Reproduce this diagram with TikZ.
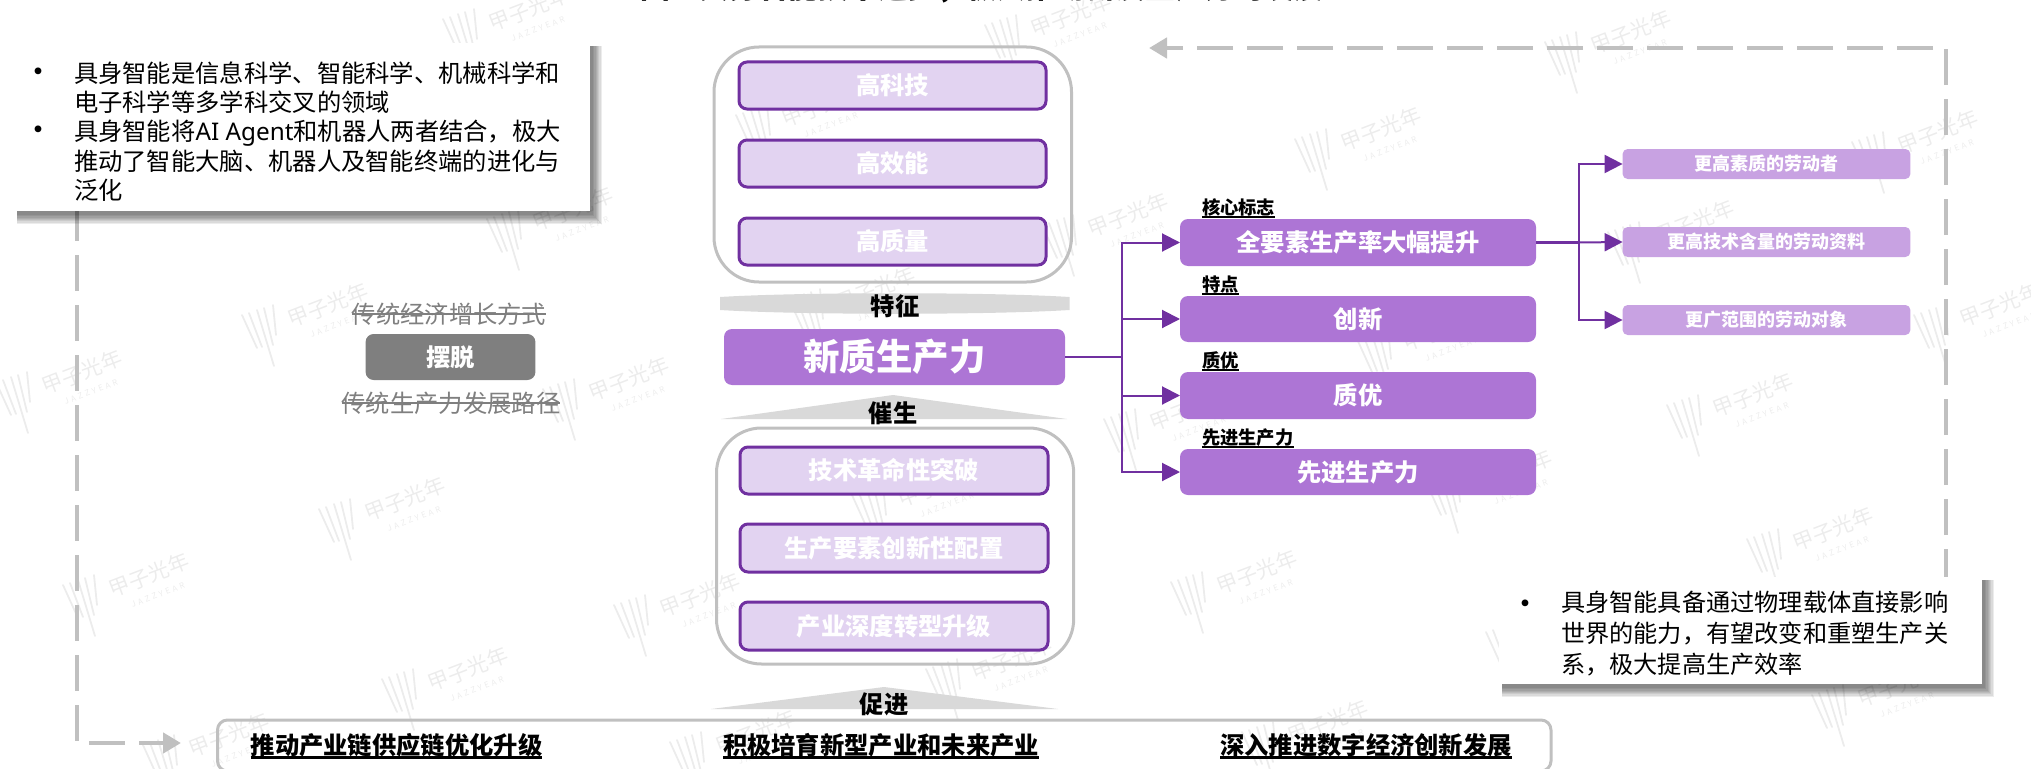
\documentclass[tikz,border=0pt]{standalone}
\usepackage{fontspec}
\setmainfont{Noto Sans CJK SC}
\newfontfamily\latinpart{Noto Sans}
\usetikzlibrary{arrows.meta}
\definecolor{pdark}{HTML}{7030A0}
\definecolor{pmid}{HTML}{AD75D5}
\definecolor{plite}{HTML}{C8A2E2}
\definecolor{ppale}{HTML}{E2D3F1}
\definecolor{gline}{HTML}{C0C0C0}
\definecolor{gband}{HTML}{D9D9D9}
\definecolor{gdark}{HTML}{7F7F7F}
\definecolor{wmk}{HTML}{ECECEC}
\tikzset{
  base/.style={inner sep=0pt,outer sep=0pt},
  shell/.style={base,draw=gline,line width=3pt,rounded corners=45pt},
  inner/.style={base,draw=pdark,fill=ppale,line width=3pt,rounded corners=8pt,text=white,font=\fontsize{24.3}{29}\selectfont\bfseries},
  solid box/.style={base,fill=pmid,rounded corners=8pt,text=white,font=\fontsize{24.3}{29}\selectfont\bfseries},
  small box/.style={base,fill=plite,rounded corners=5pt,text=white,font=\fontsize{18}{22}\selectfont\bfseries},
  grey box/.style={base,fill=gdark,rounded corners=8pt,text=white,font=\fontsize{24.3}{29}\selectfont\bfseries},
  note box/.style={base,fill=white},
  body/.style={base,anchor=north west,align=left,text=black,font=\fontsize{24.3}{29.4}\selectfont},
  dot/.style={base,anchor=base,text=black,font=\fontsize{32}{36}\selectfont},
  stage/.style={base,text=black,font=\fontsize{24.3}{29}\selectfont\bfseries},
  tag/.style={base,anchor=base west,text=black,font=\fontsize{18.3}{22}\selectfont\bfseries},
  link/.style={base,anchor=base,text=black,font=\fontsize{24.3}{29}\selectfont\bfseries},
  old/.style={base,text=gdark,font=\fontsize{24.3}{29}\selectfont},
  flow/.style={draw=pdark,line width=2pt},
  flowarrow/.style={flow,-{Triangle[length=18pt,width=18pt]}},
  backline/.style={draw=gline,line width=4.5pt,dash pattern=on 36pt off 14pt,-{Triangle[length=18pt,width=20pt]}},
}
% #1 rule depth, #2 rule height, #3 text
\newcommand\ruled[3]{\setbox0\hbox{#3}\makebox[0pt][l]{\rule[-#1pt]{\wd0}{#2pt}}\box0}
% #1 style, #2 name, #3 x1, #4 y1, #5 x2, #6 y2, #7 text
\newcommand\bx[7]{\node[#1,minimum width={(#5-#3)*1pt},minimum height={(#6-#4)*1pt}] (#2) at ({(#3+#5)/2},{(#4+#6)/2}) {\raisebox{-1pt}{#7}};}
\newcommand\softshadow[4]{\foreach \i in {0,...,7}{\fill[black,opacity=.075] (#1+3,#2+3) rectangle ({#3+3+\i*1.25},{#4+4+\i*1.25});}}
\newcommand\wm[2]{\begin{scope}[shift={(#1,#2)}]
  \draw[wmk,line width=1.8pt,line cap=round] (-18,-18)--(-3,15) (-11,-20)--(2,14) (-3,-23)--(14,33) (4,-25)--(13,12) (13,-28)--(16,2);
  \node[base,text=wmk,rotate=21,font=\fontsize{21}{24}\selectfont] (wm#1x#2a) at (68,-28) {甲子光年};
  \node[base,text=wmk,rotate=21,font=\fontsize{8}{10}\selectfont] (wm#1x#2b) at (77,-8) {J\,\,A\,\,Z\,\,Z\,\,Y\,\,E\,\,A\,\,R};
\end{scope}}
\begin{document}
\begin{tikzpicture}[x=1pt,y=-1pt]
\useasboundingbox (0,0) rectangle (2031,768);
\begin{scope}
\clip (0,0) rectangle (2031,768);
\wm{461}{37}\wm{1003}{43}\wm{754}{133}\wm{505}{237}\wm{1060}{243}\wm{260}{333}\wm{14}{400}\wm{561}{407}\wm{807}{317}
\wm{1563}{60}\wm{1313}{157}\wm{1870}{160}\wm{1626}{250}\wm{1932}{333}\wm{1375}{357}\wm{1685}{423}\wm{1122}{437}\wm{1444}{500}
\wm{337}{527}\wm{81}{603}\wm{632}{623}\wm{870}{513}\wm{944}{687}\wm{400}{697}\wm{688}{760}\wm{161}{763}
\wm{1189}{600}\wm{1765}{557}\wm{1830}{713}\wm{1260}{750}\wm{1504}{650}
% title, cut by the page's upper edge
\node[base,anchor=base,text=black,font=\fontsize{29.7}{34}\selectfont\bfseries] (title) at (982,-1) {图：具身智能技术进步，极大推动新质生产力的发展};
\end{scope}

% dashed return lines
\coordinate (leftStart) at (77,205);
\coordinate (leftEnd) at (181,743);
\coordinate (rightStart) at (1946,585);
\coordinate (rightEnd) at (1149,48);
\draw[backline] (leftStart) |- (leftEnd);
\draw[backline] (rightStart) |- (rightEnd);

% left note
\softshadow{14}{43}{590}{211}
\bx{note box}{leftNote}{14}{43}{590}{211}{}
\node[dot] (leftB1) at (38,83) {•};
\node[dot] (leftB2) at (38,141) {•};
\node[body] (leftText) at (74,61.5) {具身智能是信息科学、智能科学、机械科学和\\电子科学等多学科交叉的领域\\具身智能将{\latinpart AI Agent}和机器人两者结合，极大\\推动了智能大脑、机器人及智能终端的进化与\\泛化};

% old ways
\node[old] (oldA) at (449,314) {传统经济增长方式};
\draw[gdark,line width=1.8pt] (oldA.west) -- (oldA.east);
\bx{grey box}{shed}{365.6}{334}{535.4}{380}{摆脱}
\node[old] (oldB) at (451,403) {传统生产力发展路径};
\draw[gdark,line width=1.8pt] (oldB.west) -- (oldB.east);

% upper column
\bx{shell}{upperShell}{714}{47}{1071.5}{282}{}
\bx{inner}{hiTech}{739}{62}{1046}{109}{高科技}
\bx{inner}{hiEff}{739}{140}{1046}{187}{高效能}
\bx{inner}{hiQual}{739}{218}{1046}{265}{高质量}
\fill[gband] (720,297) .. controls (800,292) and (990,292) .. (1069.5,297) -- (1069.5,310) .. controls (990,315) and (800,315) .. (720,310) -- cycle;
\node[stage] (trait) at (895,306.5) {特征};

% centre
\bx{solid box,font=\fontsize{36.5}{42}\selectfont\bfseries}{npf}{724}{329}{1065}{385}{新质生产力}

% lower column
\fill[gband] (721,419) -- (893,395) -- (1067,419) -- cycle;
\node[stage] (spawn) at (893,413) {催生};
\bx{shell}{lowerShell}{716.5}{428}{1073.7}{664}{}
\bx{inner}{tech}{740}{447}{1048}{494}{技术革命性突破}
\bx{inner}{factor}{740}{524}{1048}{572}{生产要素创新性配置}
\bx{inner}{indus}{740}{602}{1048}{650}{产业深度转型升级}
\fill[gband] (711,709) -- (884,687) -- (1058,709) -- cycle;
\node[stage] (promote) at (884,704) {促进};

% bottom band
\bx{shell,rounded corners=10pt}{bottomBand}{217.5}{720}{1551}{771}{}
\node[link] (linkA) at (396.5,754) {\ruled{4.8}{2.4}{推动产业链供应链优化升级}};
\node[link] (linkB) at (881,754) {\ruled{4.8}{2.4}{积极培育新型产业和未来产业}};
\node[link] (linkC) at (1366,754) {\ruled{4.8}{2.4}{深入推进数字经济创新发展}};

% right column
\bx{solid box}{coreBox}{1180}{219}{1536}{266}{全要素生产率大幅提升}
\bx{solid box}{innovBox}{1180}{296}{1536}{342}{创新}
\bx{solid box}{qualBox}{1180}{372}{1536}{419}{质优}
\bx{solid box}{advBox}{1180}{449}{1536}{495}{先进生产力}
\node[tag] (tagA) at (1202,214.5) {\ruled{3.5}{2.2}{核心标志}};
\node[tag] (tagB) at (1202,291.5) {\ruled{3.5}{2.2}{特点}};
\node[tag] (tagC) at (1202,367.5) {\ruled{3.5}{2.2}{质优}};
\node[tag] (tagD) at (1202,444.5) {\ruled{3.5}{2.2}{先进生产力}};

\bx{small box}{subA}{1622.6}{149}{1910.4}{179}{更高素质的劳动者}
\bx{small box}{subB}{1622.6}{227}{1910.4}{257}{更高技术含量的劳动资料}
\bx{small box}{subC}{1622.6}{305}{1910.4}{335}{更广范围的劳动对象}

% connectors
\coordinate (busA) at (1122,357);
\coordinate (busB) at (1579.4,242.5);
\draw[flow] (npf.east) -- (busA);
\draw[flowarrow] (busA) |- (coreBox.west);
\draw[flowarrow] (busA) |- (innovBox.west);
\draw[flowarrow] (busA) |- (qualBox.west);
\draw[flowarrow] (busA) |- (advBox.west);
\draw[flow,line width=2.5pt] (coreBox.east) -- (busB);
\draw[flowarrow] (busB) |- (subA.west);
\draw[flowarrow] (busB) -- (subB.west);
\draw[flowarrow] (busB) |- (subC.west);

% right note
\softshadow{1499}{577}{1982}{684}
\bx{note box}{rightNote}{1499}{577}{1982}{684}{}
\node[dot] (rightB) at (1525,615) {•};
\node[body,font=\fontsize{24.2}{31}\selectfont] (rightText) at (1561,591) {具身智能具备通过物理载体直接影响\\世界的能力，有望改变和重塑生产关\\系，极大提高生产效率};
\end{tikzpicture}
\end{document}
